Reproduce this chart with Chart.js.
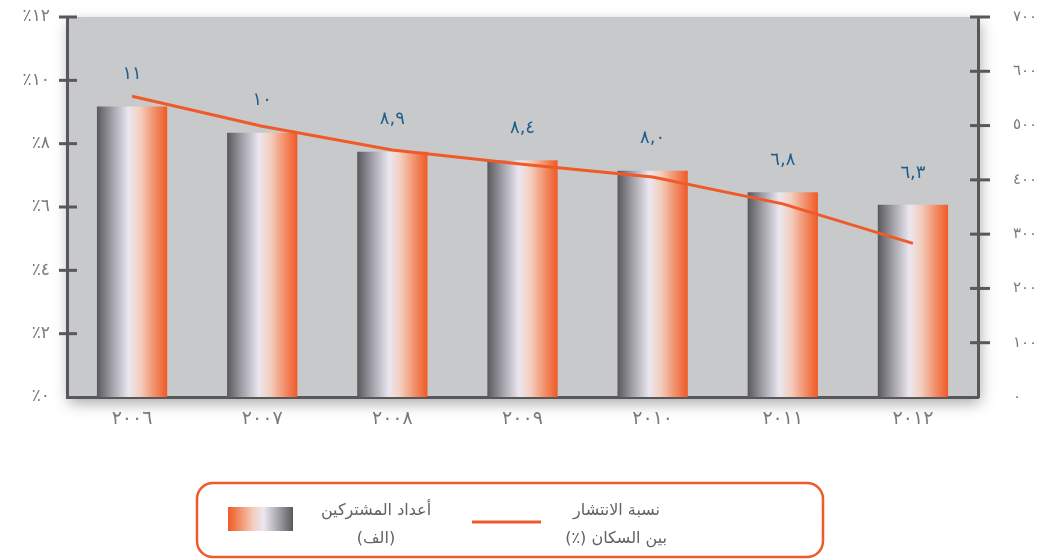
<!DOCTYPE html>
<html>
<head>
<meta charset="utf-8">
<script src="https://cdn.jsdelivr.net/npm/chart.js@4/dist/chart.umd.min.js"></script>
<style>
  html, body { margin: 0; padding: 0; background: #fff; }
  #wrap { width: 1059px; height: 560px; position: relative; }
</style>
</head>
<body>
<div id="wrap"><canvas id="c"></canvas></div>
<script>
// --- data ---
const years = ['2006', '2007', '2008', '2009', '2010', '2011', '2012']
const subscribers = [535, 487, 452, 436, 417, 377, 354]      // thousands, right axis
const penetration = [9.5, 8.55, 7.8, 7.35, 6.95, 6.1, 4.85]  // %, left axis
const barLabels = ['١١', '١٠', '٨,٩', '٨,٤', '٨,٠', '٦,٨', '٦,٣']
const pctMax = 12
const subsMax = 700

const ORANGE = '#f05a28'
const AXIS = '#58585a'
const GREY_TXT = '#7a7a7a'
const FONT = '"DejaVu Sans", sans-serif'

const toAr = n => String(n).replace(/\d/g, d => '٠١٢٣٤٥٦٧٨٩'[d])

function barGradient(ctx, x0, x1, reverse) {
  const g = ctx.createLinearGradient(reverse ? x1 : x0, 0, reverse ? x0 : x1, 0)
  g.addColorStop(0, '#58585c')
  g.addColorStop(0.2, '#9c9ba3')
  g.addColorStop(0.45, '#ebe7f0')
  g.addColorStop(0.62, '#f3cdbd')
  g.addColorStop(0.82, '#f28e68')
  g.addColorStop(1, '#ef5a26')
  return g
}

// the Arabic font makes Chart.js reserve extra room above the axes
function fitVertical(width) {
  return s => {
    s.width = width
    s.paddingTop = 0
    s.paddingBottom = 0
  }
}

const plotBg = {
  id: 'plotBg',
  beforeDraw(chart) {
    const { ctx, chartArea: a } = chart
    ctx.save()
    ctx.shadowColor = 'rgba(0,0,0,0.35)'
    ctx.shadowBlur = 14
    ctx.shadowOffsetY = 6
    ctx.shadowOffsetX = 2
    ctx.fillStyle = '#c8c9cb'
    ctx.fillRect(a.left, a.top, a.right - a.left, a.bottom - a.top)
    ctx.restore()
  }
}

const extras = {
  id: 'extras',
  afterDraw(chart) {
    const { ctx, chartArea: a } = chart
    ctx.save()
    ctx.strokeStyle = AXIS
    ctx.lineWidth = 3
    const yl = chart.scales.y
    yl.ticks.forEach(t => {
      if (t.value === 0) return
      const py = yl.getPixelForValue(t.value)
      ctx.beginPath(); ctx.moveTo(a.left - 8, py); ctx.lineTo(a.left + 10, py); ctx.stroke()
    })
    const yr = chart.scales.y1
    yr.ticks.forEach(t => {
      if (t.value === 0) return
      const py = yr.getPixelForValue(t.value)
      ctx.beginPath(); ctx.moveTo(a.right - 8, py); ctx.lineTo(a.right + 12, py); ctx.stroke()
    })

    // labels above bars
    const meta = chart.getDatasetMeta(1)
    ctx.fillStyle = '#1f5d8c'
    ctx.font = '18px ' + FONT
    ctx.textAlign = 'center'
    ctx.textBaseline = 'middle'
    meta.data.forEach((bar, i) => {
      ctx.fillText(barLabels[i], bar.x, bar.y - 32)
    })

    // legend box
    ctx.strokeStyle = ORANGE
    ctx.lineWidth = 2.5
    ctx.beginPath()
    ctx.roundRect(197, 483, 626, 74, 16)
    ctx.stroke()

    ctx.fillStyle = barGradient(ctx, 228, 293, true)
    ctx.fillRect(228, 507, 65, 24)

    ctx.strokeStyle = ORANGE
    ctx.lineWidth = 3
    ctx.beginPath(); ctx.moveTo(472, 522); ctx.lineTo(541, 522); ctx.stroke()

    ctx.fillStyle = '#626262'
    ctx.font = '16px ' + FONT
    ctx.direction = 'rtl'
    ctx.textAlign = 'center'
    ctx.fillText('أعداد المشتركين', 376, 511)
    ctx.fillText('(الف)', 376, 539)
    ctx.textAlign = 'right'
    ctx.fillText('نسبة الانتشار', 660, 511)
    ctx.fillText('بين السكان (٪)', 667, 539)
    ctx.restore()
  }
}

new Chart(document.getElementById('c'), {
  data: {
    labels: years,
    datasets: [
      {
        type: 'line',
        label: 'نسبة الانتشار بين السكان (٪)',
        data: penetration,
        yAxisID: 'y',
        borderColor: ORANGE,
        borderWidth: 3,
        pointRadius: 0,
        tension: 0,
        order: 0
      },
      {
        type: 'bar',
        label: 'أعداد المشتركين (الف)',
        data: subscribers,
        yAxisID: 'y1',
        order: 1,
        barPercentage: 0.54,
        categoryPercentage: 1,
        backgroundColor: (c) => {
          const ch = c.chart
          const a = ch.chartArea
          if (!a || c.dataIndex === undefined) return '#aaa'
          const x = ch.scales.x.getPixelForValue(c.dataIndex)
          const w = (a.right - a.left) / years.length * 0.54
          return barGradient(ch.ctx, x - w / 2, x + w / 2, false)
        }
      }
    ]
  },
  options: {
    responsive: true,
    maintainAspectRatio: false,
    animation: false,
    layout: { padding: { top: 17, left: 0, right: 0, bottom: 0 } },
    plugins: { legend: { display: false }, tooltip: { enabled: false } },
    scales: {
      x: {
        afterFit: s => { s.height = 163 },
        grid: { display: false, drawTicks: false },
        border: { display: true, color: AXIS, width: 3 },
        ticks: {
          padding: 11,
          color: GREY_TXT,
          font: { family: FONT, size: 19 },
          callback: function (v) { return toAr(this.getLabelForValue(v)) }
        }
      },
      y: {
        position: 'left',
        min: 0, max: pctMax,
        afterFit: fitVertical(67),
        grid: { display: false, drawTicks: false },
        border: { display: true, color: AXIS, width: 3 },
        ticks: {
          stepSize: 2,
          padding: 17,
          color: GREY_TXT,
          font: { family: FONT, size: 17 },
          callback: v => '٪' + toAr(v)
        }
      },
      y1: {
        position: 'right',
        min: 0, max: subsMax,
        afterFit: fitVertical(81),
        grid: { display: false, drawTicks: false },
        border: { display: true, color: AXIS, width: 3 },
        ticks: {
          stepSize: 100,
          padding: 35,
          color: GREY_TXT,
          font: { family: FONT, size: 15 },
          callback: v => toAr(v)
        }
      }
    }
  },
  plugins: [plotBg, extras]
})
</script>
</body>
</html>
